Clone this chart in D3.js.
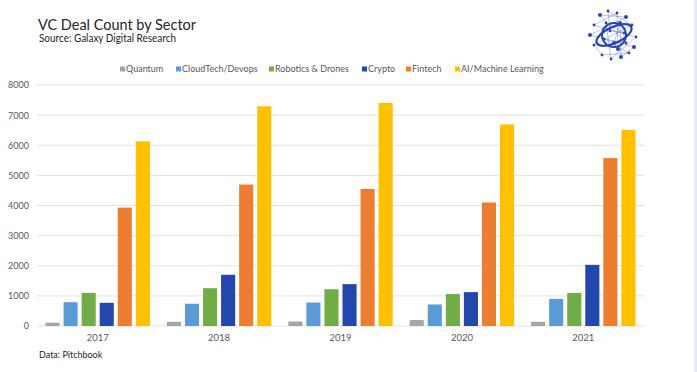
<!DOCTYPE html>
<html>
<head>
<meta charset="utf-8">
<script src="https://cdn.jsdelivr.net/npm/d3@7"></script>
<style>
  body { margin: 0; background: #fff; }
  svg { display: block; font-family: Lato, 'Open Sans', sans-serif; }
</style>
</head>
<body>
<svg id="chart"></svg>
<script>
// values
const years = ['2017', '2018', '2019', '2020', '2021'];
const sectors = ['Quantum', 'CloudTech/Devops', 'Robotics & Drones', 'Crypto', 'Fintech', 'AI/Machine Learning'];
const sectorColors = ['#a5a5a5', '#5b9bd5', '#70ad47', '#2347ad', '#ed7d31', '#ffc000'];
const quantum = [110, 140, 150, 200, 140];
const cloudtech = [790, 740, 780, 715, 900];
const robotics = [1100, 1255, 1220, 1060, 1100];
const crypto = [770, 1700, 1390, 1125, 2030];
const fintech = [3930, 4695, 4550, 4100, 5575];
const aiml = [6130, 7295, 7405, 6690, 6510];
const yTicks = [0, 1000, 2000, 3000, 4000, 5000, 6000, 7000, 8000];

const seriesValues = [quantum, cloudtech, robotics, crypto, fintech, aiml];

var W = 697, H = 372,
    margin = {top: 85, right: 53, bottom: 46, left: 37},
    width = W - margin.left - margin.right,
    height = H - margin.top - margin.bottom;

var svg = d3.select('#chart')
    .attr('width', W)
    .attr('height', H);

// faint right border seen in the screenshot
svg.append('rect')
    .attr('x', 694).attr('y', 0)
    .attr('width', 3).attr('height', H)
    .attr('fill', '#e3eaf6');

// titles
svg.append('text')
    .attr('x', 38).attr('y', 29.5)
    .attr('font-size', 16)
    .attr('textLength', 158)
    .attr('lengthAdjust', 'spacingAndGlyphs')
    .attr('fill', '#262626')
    .text('VC Deal Count by Sector');

svg.append('text')
    .attr('x', 39).attr('y', 42)
    .attr('font-size', 10.5)
    .attr('textLength', 137)
    .attr('lengthAdjust', 'spacingAndGlyphs')
    .attr('fill', '#262626')
    .text('Source: Galaxy Digital Research');

svg.append('text')
    .attr('x', 39).attr('y', 358)
    .attr('font-size', 9)
    .attr('fill', '#262626')
    .text('Data: Pitchbook');

var chart = svg.append('g')
    .attr('transform', 'translate(' + margin.left + ',' + margin.top + ')');

var x0 = d3.scaleBand()
    .domain(years)
    .range([0, width])
    .paddingInner(0.14)
    .paddingOuter(0.07);

var x1 = d3.scaleBand()
    .domain(sectors)
    .range([0, x0.bandwidth()])
    .paddingInner(0.22);

var y = d3.scaleLinear()
    .domain([0, 8000])
    .range([height, 0]);

var color = d3.scaleOrdinal()
    .domain(sectors)
    .range(sectorColors);

// gridlines
chart.append('g')
    .selectAll('line')
    .data(yTicks)
    .enter().append('line')
    .attr('x1', 0).attr('x2', width)
    .attr('y1', function(d) { return y(d); })
    .attr('y2', function(d) { return y(d); })
    .attr('stroke', '#e2e2e2')
    .attr('stroke-width', 1);

// y axis labels
var yAxis = chart.append('g')
    .call(d3.axisLeft(y).tickValues(yTicks).tickSize(0).tickPadding(8).tickFormat(d3.format('d')));
yAxis.select('.domain').remove();
yAxis.selectAll('text')
    .attr('font-family', 'Lato, sans-serif')
    .attr('font-size', 9)
    .attr('fill', '#595959');

// x axis labels
var xAxis = chart.append('g')
    .attr('transform', 'translate(0,' + height + ')')
    .call(d3.axisBottom(x0).tickSize(0).tickPadding(8));
xAxis.select('.domain').remove();
xAxis.selectAll('text')
    .attr('font-family', 'Lato, sans-serif')
    .attr('font-size', 9.5)
    .attr('fill', '#595959');

// bars
var groups = chart.selectAll('.year')
    .data(years)
    .enter().append('g')
    .attr('class', 'year')
    .attr('transform', function(d) { return 'translate(' + x0(d) + ',0)'; });

groups.selectAll('rect')
    .data(function(d, i) {
        return sectors.map(function(s, j) { return {sector: s, value: seriesValues[j][i]}; });
    })
    .enter().append('rect')
    .attr('x', function(d) { return x1(d.sector); })
    .attr('y', function(d) { return y(d.value); })
    .attr('width', x1.bandwidth())
    .attr('height', function(d) { return height - y(d.value); })
    .attr('fill', function(d) { return color(d.sector); });

// legend
var legendX = [120, 176, 269, 362, 406, 455];
var legend = svg.append('g')
    .selectAll('g')
    .data(sectors)
    .enter().append('g')
    .attr('transform', function(d, i) { return 'translate(' + legendX[i] + ',69)'; });

legend.append('rect')
    .attr('x', 0).attr('y', -2.5)
    .attr('width', 5).attr('height', 5)
    .attr('fill', function(d) { return color(d); });

legend.append('text')
    .attr('x', 6).attr('y', 3)
    .attr('font-size', 9)
    .attr('fill', '#595959')
    .text(function(d) { return d; });

// logo: small network globe
var logo = svg.append('g')
    .attr('transform', 'translate(614,35)');
var logoDots = [
    [-14, -20], [-6, -24], [3, -22], [12, -18], [18, -10], [-20, -10], [-24, 0],
    [-20, 10], [22, 2], [20, 12], [-12, 20], [-3, 24], [7, 22], [15, 18],
    [-8, -12], [6, -12], [-10, 4], [10, -2], [0, 8], [12, 8], [-4, -4], [4, 14]
];
logo.selectAll('line')
    .data(logoDots)
    .enter().append('line')
    .attr('x1', function(d) { return d[0]; })
    .attr('y1', function(d) { return d[1]; })
    .attr('x2', function(d, i) { var n = logoDots[(i + 3) % logoDots.length]; return n[0]; })
    .attr('y2', function(d, i) { var n = logoDots[(i + 3) % logoDots.length]; return n[1]; })
    .attr('stroke', '#5a72c8')
    .attr('stroke-width', 0.6)
    .attr('opacity', 0.7);
logo.append('ellipse')
    .attr('rx', 19).attr('ry', 8)
    .attr('transform', 'rotate(-25)')
    .attr('fill', 'none')
    .attr('stroke', '#2a45b0')
    .attr('stroke-width', 2.2);
logo.append('circle')
    .attr('r', 12)
    .attr('fill', 'none')
    .attr('stroke', '#2a45b0')
    .attr('stroke-width', 2);
logo.selectAll('circle.dot')
    .data(logoDots)
    .enter().append('circle')
    .attr('class', 'dot')
    .attr('cx', function(d) { return d[0]; })
    .attr('cy', function(d) { return d[1]; })
    .attr('r', function(d, i) { return i % 3 === 0 ? 2 : 1.4; })
    .attr('fill', '#2a45b0');
</script>
</body>
</html>
